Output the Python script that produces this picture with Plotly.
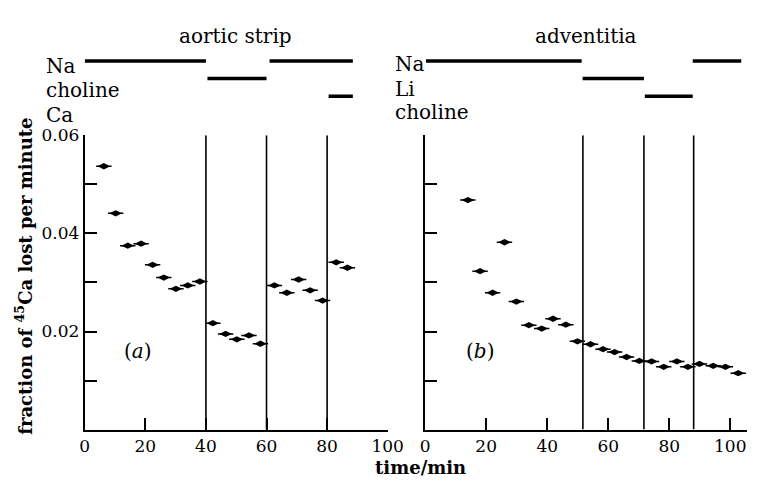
import plotly.graph_objects as go

W, H = 765, 481

# ---------------- data ----------------
# (a) aortic strip
t_a = [6.3, 10.2, 14.2, 18.6, 22.4, 26.1, 30.1, 34.0, 38.0, 42.3, 46.5,
       50.2, 54.2, 58.0, 62.6, 66.7, 70.6, 74.4, 78.5, 83.0, 86.7]
f_a = [0.0537, 0.0441, 0.0375, 0.0379, 0.0336, 0.0310, 0.0287, 0.0294, 0.0302,
       0.0217, 0.0195, 0.0184, 0.0192, 0.0175, 0.0294, 0.0279, 0.0306, 0.0284,
       0.0263, 0.0341, 0.0330]

# (b) adventitia
t_b = [14.0, 18.0, 22.1, 26.0, 29.9, 34.0, 38.2, 41.9, 46.1, 49.9, 54.2, 58.3,
       62.1, 66.0, 70.2, 74.2, 78.2, 82.5, 86.1, 89.9, 94.4, 98.4, 102.6]
f_b = [0.0468, 0.0323, 0.0279, 0.0382, 0.0261, 0.0213, 0.0206, 0.0226, 0.0214,
       0.0180, 0.0174, 0.0164, 0.0158, 0.0148, 0.0140, 0.0139, 0.0128, 0.0139,
       0.0128, 0.0134, 0.0130, 0.0128, 0.0115]

# solution changes (min)
switch_a = [40, 60, 80]
switch_b = [51.7, 71.7, 88.0]

# solution bars: label -> list of (start, end) in min
rows_a = ["Na", "choline", "Ca"]
bars_a = [[(0, 40), (61, 88.5)], [(40.5, 60)], [(80.5, 88.5)]]
rows_b = ["Na", "Li", "choline"]
bars_b = [[(0.3, 51.3), (87.7, 103.6)], [(51.6, 71.7)], [(72.0, 87.7)]]

x_ticks = [0, 20, 40, 60, 80, 100]
y_ticks = [0.01, 0.02, 0.03, 0.04, 0.05, 0.06]
y_ticktext = ["", "0.02", "", "0.04", "", "0.06"]

titles = ["aortic strip", "adventitia"]
panel_tags = ["(<i>a</i>)", "(<i>b</i>)"]

# ---------------- layout helpers ----------------
FONT = "DejaVu Serif"


def px(x):
    return x / W


def py(y):
    return 1 - y / H


fig = go.Figure()

for t, f, xa, ya in [(t_a, f_a, "x", "y"), (t_b, f_b, "x2", "y2")]:
    fig.add_trace(go.Scatter(x=t, y=f, mode="markers", xaxis=xa, yaxis=ya,
                             marker=dict(symbol="line-ew", size=11, color="black",
                                         line=dict(width=1.5, color="black")),
                             hoverinfo="skip", showlegend=False))
    fig.add_trace(go.Scatter(x=t, y=f, mode="markers", xaxis=xa, yaxis=ya,
                             marker=dict(symbol="diamond-wide", size=9, color="black",
                                         line=dict(width=0)),
                             showlegend=False))

shapes = []
for sw, xr in [(switch_a, "x"), (switch_b, "x2")]:
    for s in sw:
        shapes.append(dict(type="line", xref=xr, yref="y", x0=s, x1=s, y0=0, y1=0.06,
                           line=dict(color="black", width=1.6)))

row_y = [52, 70, 88]
for bars, xr in [(bars_a, "x"), (bars_b, "x2")]:
    for i, segs in enumerate(bars):
        for s0, s1 in segs:
            shapes.append(dict(type="line", xref=xr, yref="paper", x0=s0, x1=s1,
                               y0=py(row_y[i]), y1=py(row_y[i]),
                               line=dict(color="black", width=3.5)))

annotations = []
# panel titles
for txt, cx in zip(titles, [237, 597]):
    annotations.append(dict(text=txt, x=px(cx), y=py(27), xref="paper", yref="paper",
                            showarrow=False, xanchor="center", yanchor="middle",
                            font=dict(family=FONT, size=20, color="black")))
# row labels
for labels, lx, ys in [(rows_a, 40, [57, 82, 107]), (rows_b, 399, [55, 81, 104])]:
    for lab, yy in zip(labels, ys):
        annotations.append(dict(text=lab, x=px(lx), y=py(yy), xref="paper", yref="paper",
                                showarrow=False, xanchor="left", yanchor="middle",
                                font=dict(family=FONT, size=20, color="black")))
# panel tags
for tag, cx in zip(panel_tags, [137, 488]):
    annotations.append(dict(text=tag, x=px(cx), y=py(348), xref="paper", yref="paper",
                            showarrow=False, xanchor="center", yanchor="middle",
                            font=dict(family=FONT, size=20, color="black")))
# axis titles
annotations.append(dict(text="<b>time/min</b>", x=px(427), y=py(467), xref="paper",
                        yref="paper", showarrow=False, xanchor="center", yanchor="middle",
                        font=dict(family=FONT, size=18, color="black")))
annotations.append(dict(text="<b>fraction of <sup>45</sup>Ca lost per minute</b>",
                        x=px(20), y=py(272), xref="paper", yref="paper", textangle=-90,
                        showarrow=False, xanchor="center", yanchor="middle",
                        font=dict(family=FONT, size=18, color="black")))

ydom = [py(428.5), py(128)]
common_x = dict(showgrid=False, zeroline=False, showline=True, linecolor="black",
                linewidth=2, ticks="inside", ticklen=12, tickwidth=1.5, tickcolor="black",
                tickvals=x_ticks, ticktext=[str(v) for v in x_ticks],
                tickfont=dict(family=FONT, size=17, color="black"), fixedrange=True)
common_y = dict(showgrid=False, zeroline=False, showline=True, linecolor="black",
                linewidth=2, ticks="inside", ticklen=12, tickwidth=1.5, tickcolor="black",
                tickvals=y_ticks, range=[0, 0.06], domain=ydom,
                tickfont=dict(family=FONT, size=17, color="black"), fixedrange=True)

fig.update_layout(
    width=W, height=H,
    margin=dict(l=0, r=0, t=0, b=0),
    paper_bgcolor="white", plot_bgcolor="rgba(0,0,0,0)",
    font=dict(family=FONT, color="black"),
    xaxis=dict(common_x, domain=[px(82), px(393.5)], range=[0, 100], anchor="y"),
    yaxis=dict(common_y, ticktext=y_ticktext, anchor="x"),
    xaxis2=dict(common_x, domain=[px(432), px(763)], range=[0, 105.5], anchor="y2"),
    yaxis2=dict(common_y, ticktext=[""] * len(y_ticks), anchor="x2"),
    shapes=shapes,
    annotations=annotations,
)

fig.write_html("out.html", config={"displayModeBar": False},
               post_script="document.body.style.margin='0';"
                           "document.body.style.overflow='hidden';")
